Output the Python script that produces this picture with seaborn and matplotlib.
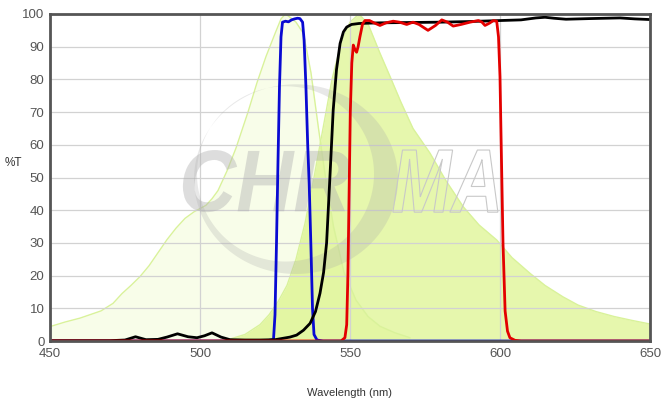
import numpy as np
import pandas as pd
import matplotlib
matplotlib.use("Agg")
import matplotlib.pyplot as plt
from matplotlib.textpath import TextPath
from matplotlib.font_manager import FontProperties
from matplotlib.patches import PathPatch
from matplotlib.path import Path
from matplotlib.transforms import Affine2D
import seaborn as sns

# ---------------- data ----------------
ex_wl = [450, 455, 460, 467, 471, 474, 477, 480, 483, 486, 489, 492, 495, 498, 500,
         502, 504, 506, 509, 512, 516, 519, 522, 525, 527, 528.5, 530, 532, 534.5,
         537, 539.5, 542, 544.5, 548, 552, 556, 560, 565, 570]
ex_val = [4.4, 5.8, 7.0, 9.2, 11.5, 14.5, 17, 19.7, 23, 27, 31, 34.5, 37.5, 39.5, 40.5,
          41.5, 43.5, 46, 52, 59, 70, 79, 87, 94, 98.5, 100, 99, 97.5, 94,
          82, 65, 49, 35, 21, 12.5, 7.5, 4.5, 2.5, 1.0]

em_wl = [505, 510, 515, 520, 523, 526, 529, 532, 535, 538, 541, 544, 547, 550, 553,
         556, 560, 563.3, 567, 571, 576.7, 582, 587.8, 593, 598.9, 604, 610, 615, 621,
         626, 632, 638, 644, 650]
em_val = [0, 0.6, 2, 5, 8, 12, 17, 25, 36, 50, 65, 80, 91, 97.5, 100,
          97, 88, 81, 73, 65, 57.4, 49, 41, 35.5, 30.9, 25.5, 20.7, 17, 13.5,
          11, 9, 7.5, 6.3, 5.2]

bl_wl = [450, 522, 524.5, 525, 525.5, 526, 526.5, 527, 527.5, 528.5, 529.5, 530.5, 531.5,
         532.5, 533.3, 534.2, 534.7, 535.3, 535.9, 536.4, 537, 537.5, 538, 539, 541, 650]
bl_val = [0, 0, 0.5, 8, 30, 55, 78, 93, 97.5, 97.8, 97.6, 98.2, 98.5,
          98.7, 98.6, 97.5, 92, 78, 60, 48, 28, 10, 2, 0.3, 0, 0]

bk_wl = [450, 470, 475, 478.5, 482, 486, 489, 492.5, 496, 499, 501.5, 504, 507, 510,
         515, 520, 525, 530, 532.2, 534.5, 536.7, 538.5, 540, 541.2, 542.2, 543.3,
         544.4, 545.5, 546.7, 547.8, 548.9, 550.5, 553, 560, 570, 580, 590, 600, 607,
         612, 615, 618, 622, 630, 640, 645, 650]
bk_val = [0.1, 0.1, 0.3, 1.3, 0.4, 0.5, 1.2, 2.2, 1.3, 1.0, 1.6, 2.5, 1.2, 0.4,
          0.3, 0.3, 0.4, 1.2, 1.8, 3.3, 5.4, 9, 14.6, 21, 30, 50,
          70.6, 83, 91, 94.5, 96, 96.8, 97.1, 97.3, 97.4, 97.5, 97.7, 98.0, 98.2,
          98.8, 99.0, 98.7, 98.4, 98.6, 98.8, 98.5, 98.3]

rd_wl = [450, 547, 548.3, 548.9, 549.3, 549.7, 550.1, 550.6, 551.1, 551.7, 552.2, 552.7,
         553.3, 554.2, 555, 556.5, 558, 560, 562, 564.4, 566.5, 568.9, 571, 573, 576,
         578.5, 580.6, 582.5, 584.4, 587, 590, 592.8, 594, 595, 596.5, 597.8, 598.9,
         599.5, 600, 600.3, 600.6, 601, 601.7, 602.5, 603.3, 605, 607, 650]
rd_val = [0, 0, 1, 5, 20, 45, 70, 85, 90.5, 89, 88.3, 90,
          93, 97, 98, 98, 97.3, 96.5, 97.3, 97.8, 97.5, 96.8, 97.5, 96.8, 95,
          96.5, 98.2, 97.5, 96.3, 96.8, 97.5, 98, 97.5, 96.5, 97.2, 98, 97.8,
          93, 80.8, 65, 50, 30, 9.2, 3, 1, 0.2, 0, 0]

x_ticks = [450, 500, 550, 600, 650]
y_ticks = list(range(0, 101, 10))
x_label = "Wavelength (nm)"
y_label = "%T"
watermark = ["CHR", "MA"]   # the "O" of CHROMA is the logo swoosh

# ---------------- figure ----------------
sns.set_theme(style="white")
plt.rcParams["font.family"] = ["Liberation Sans", "DejaVu Sans"]

W, H = 670, 403
fig = plt.figure(figsize=(W / 100, H / 100), dpi=100)
ax = fig.add_axes([50 / W, 1 - 341 / H, 600 / W, 327 / H])

fill_col = "#d2f26a"
edge_col = "#d9f29a"
ax.fill_between(ex_wl, ex_val, 0, color=fill_col, alpha=0.14, lw=0, zorder=0.3)
ax.fill_between(em_wl, em_val, 0, color=fill_col, alpha=0.55, lw=0, zorder=0.3)
ax.plot(ex_wl, ex_val, color=edge_col, lw=1.0, zorder=0.4)
ax.plot(em_wl, em_val, color=edge_col, lw=1.0, zorder=0.4)

# ---- watermark (logo swoosh + text) ----
t = np.linspace(0, 2 * np.pi, 240)
cx, cy = 532.0, 49.5
outer = np.column_stack([cx + 34 * np.cos(t), cy + 29 * np.sin(t)])
inner = np.column_stack([cx - 3.5 + 29.5 * np.cos(t[::-1]), cy + 1.6 + 26.8 * np.sin(t[::-1])])
verts = np.vstack([outer, inner])
codes = ([Path.MOVETO] + [Path.LINETO] * (len(outer) - 1) +
         [Path.MOVETO] + [Path.LINETO] * (len(inner) - 1))
swoosh = PathPatch(Path(verts, codes), facecolor="#a8a8a8", alpha=0.26, lw=0, zorder=0.55)
ax.add_patch(swoosh)

fp = FontProperties(family="Liberation Sans", weight="bold", style="italic")


def place_word(word, x0, x1, y0, height, **kw):
    p = TextPath((0, 0), word, size=1, prop=fp)
    e = p.get_extents()
    tr = (Affine2D().translate(-e.x0, -e.y0)
          .scale((x1 - x0) / e.width, height / e.height)
          .translate(x0, y0) + ax.transData)
    ax.add_patch(PathPatch(p, transform=tr, zorder=0.6, **kw))


place_word(watermark[0], 494.3, 550.0, 39.4, 19.0,
           facecolor="#b0b0b0", alpha=0.42, lw=0)
place_word(watermark[1], 564.3, 599.3, 39.4, 19.0,
           facecolor="none", edgecolor="#c8c8c8", lw=0.8)

df_bl = pd.DataFrame({"wl": bl_wl, "T": bl_val})
df_bk = pd.DataFrame({"wl": bk_wl, "T": bk_val})
df_rd = pd.DataFrame({"wl": rd_wl, "T": rd_val})
sns.lineplot(data=df_bl, x="wl", y="T", color="#0a0ad2", lw=2.0, ax=ax, zorder=3,
             estimator=None, sort=False)
sns.lineplot(data=df_bk, x="wl", y="T", color="black", lw=2.0, ax=ax, zorder=3.5,
             estimator=None, sort=False)
sns.lineplot(data=df_rd, x="wl", y="T", color="#e30000", lw=2.0, ax=ax, zorder=4,
             estimator=None, sort=False)

ax.set_xlim(450, 650)
ax.set_ylim(0, 100)
ax.set_xticks(x_ticks)
ax.set_yticks(y_ticks)
ax.grid(True, color="#d2d2d2", lw=0.9)
ax.tick_params(axis="both", length=0, colors="#555555", labelsize=9.5)
ax.tick_params(axis="x", pad=5)
ax.tick_params(axis="y", pad=4)
ax.set_xlabel("")
ax.set_ylabel("")
for s in ["left", "top", "right", "bottom"]:
    ax.spines[s].set_visible(True)
    ax.spines[s].set_color("#555555")
    ax.spines[s].set_linewidth(2.0)
    ax.spines[s].set_zorder(5)

fig.text(5 / W, 1 - 163 / H, y_label, fontsize=8.5, color="#333333", ha="left", va="center")
fig.text(350 / W, 1 - 393 / H, x_label, fontsize=8, color="#333333", ha="center", va="center")

fig.savefig("out.png", dpi=100)
